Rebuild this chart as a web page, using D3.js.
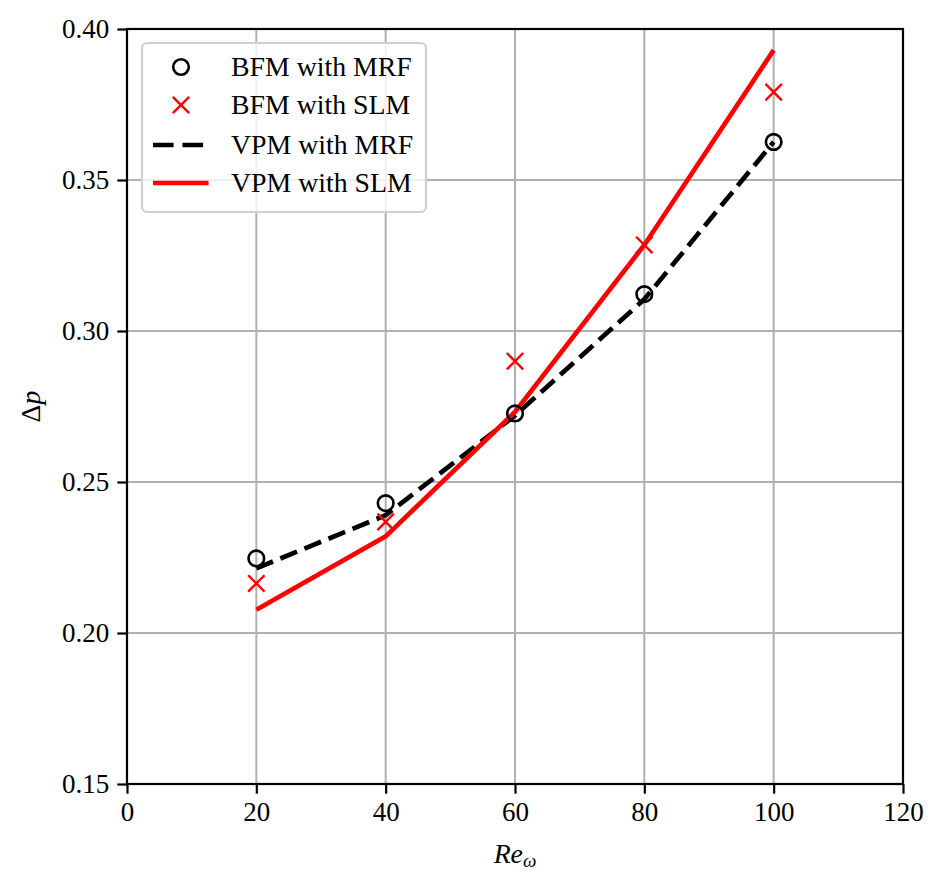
<!DOCTYPE html>
<html>
<head>
<meta charset="utf-8">
<script src="https://cdn.jsdelivr.net/npm/d3@7"></script>
<style>
  body { margin: 0; background: #fff; }
  svg text { font-family: "Liberation Serif", "DejaVu Serif", serif; }
</style>
</head>
<body>
<svg id="chart" width="943" height="887"></svg>
<script>
// values
var reVals = [20, 40, 60, 80, 100];
var bfmMrf = [0.2247, 0.2430, 0.2727, 0.3122, 0.3626];
var bfmSlm = [0.2164, 0.2368, 0.2900, 0.3285, 0.3791];
var vpmMrf = [0.2214, 0.2390, 0.2720, 0.3105, 0.3626];
var vpmSlm = [0.2077, 0.2320, 0.2732, 0.3285, 0.3930];
var xTicks = [0, 20, 40, 60, 80, 100, 120];
var yTicks = [0.15, 0.20, 0.25, 0.30, 0.35, 0.40];

var svg = d3.select('#chart');
var margin = {left: 127, top: 29, right: 40, bottom: 103};
var W = 943 - margin.left - margin.right,
	H = 887 - margin.top - margin.bottom;

var fsTick = 27, fsLeg = 27.8;

var x = d3.scaleLinear().domain([0, 120]).range([0, W]);
var y = d3.scaleLinear().domain([0.15, 0.40]).range([H, 0]);

var g = svg.append('g').attr('transform', 'translate(' + margin.left + ',' + margin.top + ')');

// grid
g.append('g').selectAll('line').data(xTicks).enter().append('line')
	.attr('x1', function(d) { return x(d); }).attr('x2', function(d) { return x(d); })
	.attr('y1', 0).attr('y2', H)
	.attr('stroke', '#b0b0b0').attr('stroke-width', 2);
g.append('g').selectAll('line').data(yTicks).enter().append('line')
	.attr('y1', function(d) { return y(d); }).attr('y2', function(d) { return y(d); })
	.attr('x1', 0).attr('x2', W)
	.attr('stroke', '#b0b0b0').attr('stroke-width', 2);

// lines
var lineGen = function(vals) {
	return d3.line()
		.x(function(d, i) { return x(reVals[i]); })
		.y(function(d) { return y(d); })(vals);
};

g.append('path').attr('d', lineGen(vpmMrf))
	.attr('fill', 'none').attr('stroke', '#000').attr('stroke-width', 4.7)
	.attr('stroke-dasharray', '18,8');
g.append('path').attr('d', lineGen(vpmSlm))
	.attr('fill', 'none').attr('stroke', '#ff0000').attr('stroke-width', 4.7);

// markers
var circ = function(sel, cx, cy) {
	sel.append('circle').attr('cx', cx).attr('cy', cy).attr('r', 7.8)
		.attr('fill', 'none').attr('stroke', '#000').attr('stroke-width', 2.6);
};
var cross = function(sel, cx, cy) {
	var s = 8.2;
	sel.append('path')
		.attr('d', 'M' + (cx - s) + ',' + (cy - s) + 'L' + (cx + s) + ',' + (cy + s) +
			'M' + (cx - s) + ',' + (cy + s) + 'L' + (cx + s) + ',' + (cy - s))
		.attr('stroke', '#ff0000').attr('stroke-width', 2.4).attr('fill', 'none');
};

bfmMrf.forEach(function(d, i) { circ(g, x(reVals[i]), y(d)); });
bfmSlm.forEach(function(d, i) { cross(g, x(reVals[i]), y(d)); });

// axes
var xAxis = g.append('g').attr('transform', 'translate(0,' + H + ')')
	.call(d3.axisBottom(x).tickValues(xTicks).tickSize(9.7).tickPadding(8).tickFormat(d3.format('d')));
var yAxis = g.append('g')
	.call(d3.axisLeft(y).tickValues(yTicks).tickSize(9.7).tickPadding(8).tickFormat(d3.format('.2f')));
[xAxis, yAxis].forEach(function(a) {
	a.select('.domain').remove();
	a.selectAll('line').attr('stroke', '#000').attr('stroke-width', 2.2);
	a.selectAll('text').attr('font-size', fsTick).attr('fill', '#000')
		.style('font-family', '"Liberation Serif", serif');
});

// frame
g.append('rect').attr('x', 0).attr('y', 0).attr('width', W).attr('height', H)
	.attr('fill', 'none').attr('stroke', '#000').attr('stroke-width', 2.2);

// axis labels
var xl = svg.append('text').attr('x', margin.left + W / 2).attr('y', 863)
	.attr('text-anchor', 'middle').attr('font-size', fsLeg).attr('font-style', 'italic');
xl.append('tspan').text('Re');
xl.append('tspan').attr('font-size', 19).attr('dy', 4).text('ω');

svg.append('text')
	.attr('transform', 'translate(40,' + (margin.top + H / 2) + ') rotate(-90)')
	.attr('text-anchor', 'middle').attr('font-size', fsLeg)
	.html('Δ<tspan font-style="italic">p</tspan>');

// legend
var leg = svg.append('g');
leg.append('rect').attr('x', 142).attr('y', 43).attr('width', 284).attr('height', 169)
	.attr('rx', 5).attr('fill', 'rgba(255,255,255,0.8)')
	.attr('stroke', '#d0d0d0').attr('stroke-width', 2.2);

var legItems = ['BFM with MRF', 'BFM with SLM', 'VPM with MRF', 'VPM with SLM'];
var legY = [67, 105, 145, 183];
legItems.forEach(function(t, i) {
	leg.append('text').attr('x', 231).attr('y', legY[i]).attr('dy', '0.33em')
		.attr('font-size', fsLeg).text(t);
});
circ(leg, 181, legY[0]);
cross(leg, 181, legY[1]);
leg.append('line').attr('x1', 153).attr('x2', 208.6).attr('y1', legY[2]).attr('y2', legY[2])
	.attr('stroke', '#000').attr('stroke-width', 4.7).attr('stroke-dasharray', '20.6,8.9');
leg.append('line').attr('x1', 153).attr('x2', 208.6).attr('y1', legY[3]).attr('y2', legY[3])
	.attr('stroke', '#ff0000').attr('stroke-width', 4.7);
</script>
</body>
</html>
